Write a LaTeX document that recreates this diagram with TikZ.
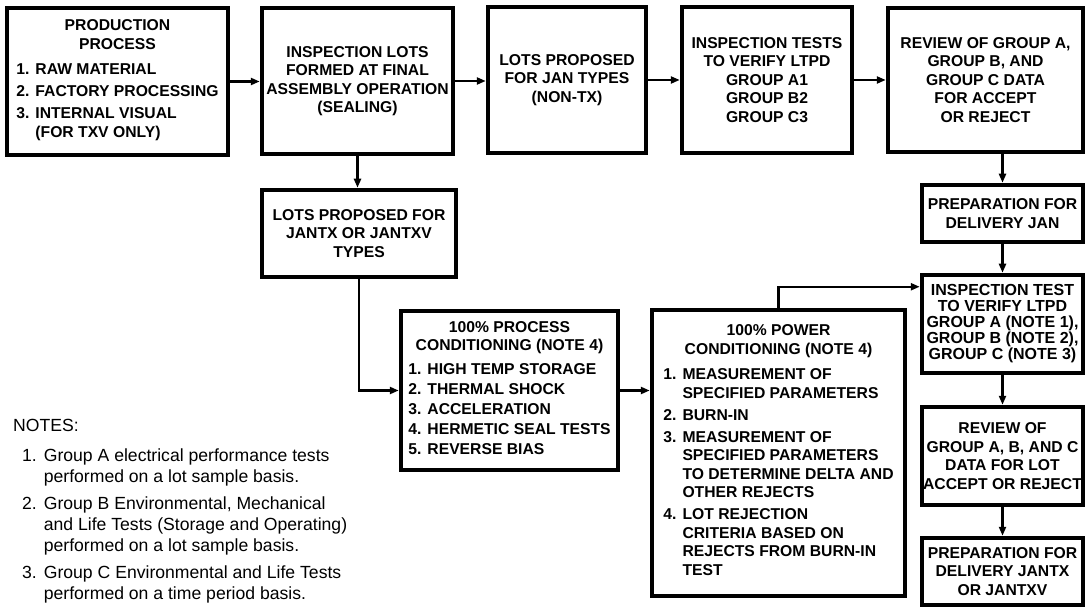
\documentclass[tikz,border=0pt]{standalone}
\usepackage{fontspec}
\setmainfont{Liberation Sans}
\usetikzlibrary{arrows.meta,positioning}

\newcommand{\boxfont}{\bfseries\fontsize{15.7}{18.5}\selectfont}
\newcommand{\notefont}{\fontsize{17.6}{21}\selectfont}

\begin{document}
\begin{tikzpicture}[
    x=1pt, y=-1pt,
    blk/.style={draw, line width=4.5pt, align=center, inner sep=0pt, font=\boxfont},
    tight/.style={font={\bfseries\fontsize{16}{16}\selectfont}},
    arr/.style={-{Triangle[length=9pt,width=7pt]}, line width=2.2pt},
    notetxt/.style={font=\notefont, inner sep=0pt, align=left},
  ]
  \path[use as bounding box, fill=white] (0,0) rectangle (1086,609);

  % top row
  \node[blk, minimum width=221, minimum height=147] (prod) at (117.5,81.5)
    {PRODUCTION\\PROCESS\\[7pt]
     \begin{tabular}[t]{@{}l@{\hspace{6pt}}l@{}}
       1. & RAW MATERIAL\\[3.5pt]
       2. & FACTORY PROCESSING\\[3.5pt]
       3. & INTERNAL VISUAL\\
          & (FOR TXV ONLY)
     \end{tabular}};
  \node[blk, minimum width=191, minimum height=146] (lots) at (357.5,81)
    {INSPECTION LOTS\\FORMED AT FINAL\\ASSEMBLY OPERATION\\(SEALING)};
  \node[blk, minimum width=158, minimum height=146] (jan) at (567,80)
    {LOTS PROPOSED\\FOR JAN TYPES\\(NON-TX)};
  \node[blk, minimum width=170, minimum height=146] (verify) at (767,80)
    {INSPECTION TESTS\\TO VERIFY LTPD\\GROUP A1\\GROUP B2\\GROUP C3};
  \node[blk, minimum width=195, minimum height=144] (review) at (985.5,80)
    {REVIEW OF GROUP A,\\GROUP B, AND\\GROUP C DATA\\FOR ACCEPT\\OR REJECT};

  % JANTX branch
  \node[blk, minimum width=194, minimum height=87] (jantx) at (359,233.5)
    {LOTS PROPOSED FOR\\JANTX OR JANTXV\\TYPES};
  \node[blk, minimum width=217, minimum height=159] (process) at (509.5,390.5)
    {100\% PROCESS\\CONDITIONING (NOTE 4)\\[5pt]
     \begin{tabular}[t]{@{}l@{\hspace{6pt}}l@{}}
       1. & HIGH TEMP STORAGE\\[1.5pt]
       2. & THERMAL SHOCK\\[1.5pt]
       3. & ACCELERATION\\[1.5pt]
       4. & HERMETIC SEAL TESTS\\[1.5pt]
       5. & REVERSE BIAS
     \end{tabular}};
  \node[blk, minimum width=253, minimum height=286] (power) at (778.5,453)
    {100\% POWER\\CONDITIONING (NOTE 4)\\[7pt]
     \begin{tabular}[t]{@{}l@{\hspace{6pt}}l@{}}
       1. & MEASUREMENT OF\\
          & SPECIFIED PARAMETERS\\[3.5pt]
       2. & BURN-IN\\[3.5pt]
       3. & MEASUREMENT OF\\
          & SPECIFIED PARAMETERS\\
          & TO DETERMINE DELTA AND\\
          & OTHER REJECTS\\[3.5pt]
       4. & LOT REJECTION\\
          & CRITERIA BASED ON\\
          & REJECTS FROM BURN-IN\\
          & TEST
     \end{tabular}};

  % right column
  \node[blk, minimum width=161, minimum height=57] (prepjan) at (1002.5,213.5)
    {PREPARATION FOR\\DELIVERY JAN};
  \node[blk, tight, minimum width=161, minimum height=98] (insptest) at (1002.5,324)
    {INSPECTION TEST\\TO VERIFY LTPD\\GROUP A (NOTE 1),\\GROUP B (NOTE 2),\\GROUP C (NOTE 3)};
  \node[blk, minimum width=161, minimum height=98] (reviewabc) at (1002.5,456)
    {REVIEW OF\\GROUP A, B, AND C\\DATA FOR LOT\\ACCEPT OR REJECT};
  \node[blk, minimum width=161, minimum height=67] (prepjantx) at (1002.5,571.5)
    {PREPARATION FOR\\DELIVERY JANTX\\OR JANTXV};

  % connectors
  \draw[arr] (prod.east) -- (prod.east -| lots.west);
  \draw[arr] (lots.east) -- (lots.east -| jan.west);
  \draw[arr] (jan.east) -- (jan.east -| verify.west);
  \draw[arr] (verify.east) -- (verify.east -| review.west);
  \draw[arr] (lots.south) -- (lots.south |- jantx.north);
  \draw[arr] (jantx.south) |- (process.west);
  \draw[arr] (process.east) -- (process.east -| power.west);
  \draw[arr] (power.north) |- ([yshift=-14pt]insptest.north west);
  \draw[arr] (review.south -| prepjan.north) -- (prepjan.north);
  \draw[arr] (prepjan.south) -- (insptest.north);
  \draw[arr] (insptest.south) -- (reviewabc.north);
  \draw[arr] (reviewabc.south) -- (prepjantx.north);

  % notes
  \node[notetxt, anchor=base west] (noteshead) at (13,431) {NOTES:};
  \node[notetxt, anchor=base west] (notelist) at (22,461)
    {\begin{tabular}[t]{@{}l@{\hspace{7pt}}l@{}}
       1. & Group A electrical performance tests\\
          & performed on a lot sample basis.\\[6pt]
       2. & Group B Environmental, Mechanical\\
          & and Life Tests (Storage and Operating)\\
          & performed on a lot sample basis.\\[6pt]
       3. & Group C Environmental and Life Tests\\
          & performed on a time period basis.
     \end{tabular}};
\end{tikzpicture}
\end{document}
